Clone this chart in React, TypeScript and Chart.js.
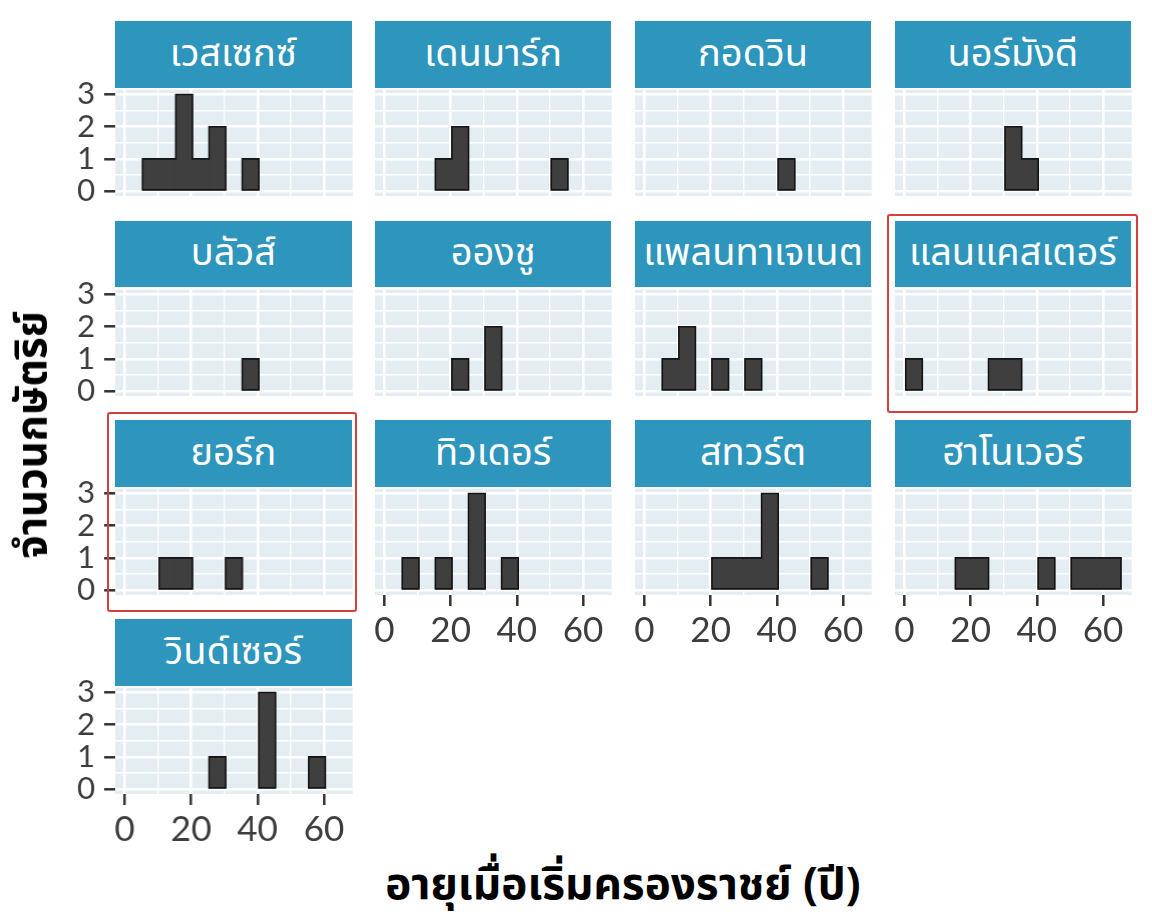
// Faceted histogram: age at accession by royal house
import { useEffect, useRef } from 'react';
import { Chart, registerables } from 'chart.js';

Chart.register(...registerables);

// bin centres in years (bin width 5)
const binCentres = [2.9, 7.9, 12.9, 17.9, 22.9, 27.9, 32.9, 37.9, 42.9, 47.9, 52.9, 57.9, 62.9];
const xTickLabels = [0, 20, 40, 60];
const yTickLabels = [0, 1, 2, 3];

const houseNames = [
  'เวสเซกซ์', 'เดนมาร์ก', 'กอดวิน', 'นอร์มังดี',
  'บลัวส์', 'อองชู', 'แพลนทาเจเนต', 'แลนแคสเตอร์',
  'ยอร์ก', 'ทิวเดอร์', 'สทวร์ต', 'ฮาโนเวอร์',
  'วินด์เซอร์',
];

// counts per bin for each house
const wessex = [0, 1, 1, 3, 1, 2, 0, 1, 0, 0, 0, 0, 0];
const denmark = [0, 0, 0, 1, 2, 0, 0, 0, 0, 0, 1, 0, 0];
const godwin = [0, 0, 0, 0, 0, 0, 0, 0, 1, 0, 0, 0, 0];
const normandy = [0, 0, 0, 0, 0, 0, 2, 1, 0, 0, 0, 0, 0];
const blois = [0, 0, 0, 0, 0, 0, 0, 1, 0, 0, 0, 0, 0];
const anjou = [0, 0, 0, 0, 1, 0, 2, 0, 0, 0, 0, 0, 0];
const plantagenet = [0, 1, 2, 0, 1, 0, 1, 0, 0, 0, 0, 0, 0];
const lancaster = [1, 0, 0, 0, 0, 1, 1, 0, 0, 0, 0, 0, 0];
const york = [0, 0, 1, 1, 0, 0, 1, 0, 0, 0, 0, 0, 0];
const tudor = [0, 1, 0, 1, 0, 3, 0, 1, 0, 0, 0, 0, 0];
const stuart = [0, 0, 0, 0, 1, 1, 1, 3, 0, 0, 1, 0, 0];
const hanover = [0, 0, 0, 1, 1, 0, 0, 0, 1, 0, 1, 1, 1];
const windsor = [0, 0, 0, 0, 0, 1, 0, 0, 3, 0, 0, 1, 0];

const houseCounts = [
  wessex, denmark, godwin, normandy,
  blois, anjou, plantagenet, lancaster,
  york, tudor, stuart, hanover,
  windsor,
];

const THAI_FONT = '"Noto Sans Thai", "Noto Sans Thai UI", Loma, Garuda, Sarabun, "Noto Sans", sans-serif';

const COL_LEFT = [115, 374.8, 634.7, 894.5];
const STRIP_TOP = [21.4, 220.7, 420, 619.3];
const PANEL_W = 236.7;
const STRIP_H = 66.6;
const PANEL_H = 108;
const PAD_L = 60;
const PAD_T = 26;
const PAD_R = 6;
const PAD_B = 64;

const panelBg = {
  id: 'panelBg',
  beforeDraw(chart: Chart) {
    const { ctx, chartArea } = chart;
    ctx.save();
    ctx.fillStyle = '#E4EDF2';
    ctx.fillRect(chartArea.left, chartArea.top, chartArea.right - chartArea.left, chartArea.bottom - chartArea.top);
    ctx.restore();
  },
};

// outline each run of neighbouring bars as one step shape (like geom_histogram)
const stepOutline = {
  id: 'stepOutline',
  afterDatasetsDraw(chart: any) {
    const bars = chart.getDatasetMeta(0).data;
    const vals = chart.data.datasets[0].data.map((d: any) => d.y);
    const ctx = chart.ctx;
    ctx.save();
    ctx.strokeStyle = '#141414';
    ctx.lineWidth = 1.6;
    let i = 0;
    while (i < bars.length) {
      if (!vals[i]) {
        i++;
        continue;
      }
      let j = i;
      while (j + 1 < bars.length && vals[j + 1]) j++;
      const base = bars[i].base;
      ctx.beginPath();
      ctx.moveTo(bars[i].x - bars[i].width / 2, base);
      for (let k = i; k <= j; k++) {
        const b = bars[k];
        ctx.lineTo(b.x - b.width / 2, b.y);
        ctx.lineTo(b.x + b.width / 2, b.y);
      }
      ctx.lineTo(bars[j].x + bars[j].width / 2, base);
      ctx.closePath();
      ctx.stroke();
      i = j + 1;
    }
    ctx.restore();
  },
};

function Panel({ name, counts, col, row }: { name: string; counts: number[]; col: number; row: number }) {
  const canvasRef = useRef<HTMLCanvasElement>(null);
  const showY = col === 0;
  const showX = row === 3 || (row === 2 && col > 0);
  const left = COL_LEFT[col];
  const stripTop = STRIP_TOP[row];
  const panelTop = stripTop + 67;

  useEffect(() => {
    if (!canvasRef.current) return;
    const chart = new Chart(canvasRef.current, {
      type: 'bar',
      data: {
        datasets: [
          {
            data: binCentres.map((x, i) => ({ x, y: counts[i] })),
            backgroundColor: (ctx: any) => (counts[ctx.dataIndex] ? '#3f3f3f' : 'rgba(0,0,0,0)'),
            borderWidth: 0,
            inflateAmount: 0.5,
            barPercentage: 1,
            categoryPercentage: 1,
          } as any,
        ],
      },
      options: {
        animation: false,
        responsive: true,
        maintainAspectRatio: false,
        layout: { padding: { top: PAD_T, right: PAD_R, left: 0, bottom: 0 } },
        plugins: { legend: { display: false }, tooltip: { enabled: false } },
        scales: {
          x: {
            type: 'linear',
            min: -2.85,
            max: 68.65,
            offset: false,
            border: { display: false },
            grid: {
              offset: false,
              color: '#ffffff',
              lineWidth: (ctx: any) => (xTickLabels.includes(ctx.tick?.value) ? 2.6 : 1.4),
              drawTicks: true,
              tickLength: 11,
              tickWidth: 2.5,
              tickColor: (ctx: any) =>
                showX && xTickLabels.includes(ctx.tick?.value) ? '#333333' : 'rgba(0,0,0,0)',
            },
            ticks: {
              stepSize: 10,
              includeBounds: false,
              autoSkip: false,
              maxRotation: 0,
              minRotation: 0,
              padding: 4,
              color: '#3d3d3d',
              font: { family: 'Lato', size: 35 },
              callback: (v: any) => (showX && xTickLabels.includes(v) ? String(v) : ''),
            },
            afterFit: (s: any) => {
              s.height = PAD_B;
            },
          },
          y: {
            type: 'linear',
            min: -0.15,
            max: 3.15,
            border: { display: false },
            grid: {
              color: '#ffffff',
              lineWidth: (ctx: any) => (yTickLabels.includes(ctx.tick?.value) ? 2.6 : 1.4),
              drawTicks: true,
              tickLength: 11,
              tickWidth: 2.5,
              tickColor: (ctx: any) =>
                showY && yTickLabels.includes(ctx.tick?.value) ? '#333333' : 'rgba(0,0,0,0)',
            },
            ticks: {
              stepSize: 0.5,
              includeBounds: false,
              autoSkip: false,
              padding: 9,
              color: '#3d3d3d',
              font: { family: 'Lato', size: 31 },
              callback: (v: any) => (showY && yTickLabels.includes(v) ? String(v) : ''),
            },
            afterFit: (s: any) => {
              s.width = PAD_L;
            },
          },
        },
      } as any,
      plugins: [panelBg, stepOutline],
    });
    return () => chart.destroy();
  }, [counts, showX, showY]);

  return (
    <>
      <div
        style={{
          position: 'absolute',
          left,
          top: stripTop,
          width: PANEL_W,
          height: STRIP_H,
          background: '#2E95BC',
          color: '#ffffff',
          display: 'flex',
          alignItems: 'center',
          justifyContent: 'center',
          fontFamily: THAI_FONT,
          fontSize: 38,
          whiteSpace: 'nowrap',
        }}
      >
        {name}
      </div>
      <div
        style={{
          position: 'absolute',
          left: left - PAD_L,
          top: panelTop - PAD_T,
          width: PAD_L + PANEL_W + PAD_R,
          height: PAD_T + PANEL_H + PAD_B,
        }}
      >
        <canvas ref={canvasRef}></canvas>
      </div>
    </>
  );
}

export default function App() {
  return (
    <div style={{ position: 'absolute', left: 0, top: 0, width: 1152, height: 923, background: '#ffffff', overflow: 'hidden' }}>
      {houseNames.map((name, i) => (
        <Panel key={name} name={name} counts={houseCounts[i]} col={i % 4} row={Math.floor(i / 4)} />
      ))}
      {/* highlight boxes */}
      <div style={{ position: 'absolute', left: 887, top: 213.5, width: 251, height: 199, border: '2px solid #D3413F', borderRadius: 3, boxSizing: 'border-box' }} />
      <div style={{ position: 'absolute', left: 106.7, top: 412.3, width: 250, height: 199.4, border: '2px solid #D3413F', borderRadius: 3, boxSizing: 'border-box' }} />
      <div
        style={{
          position: 'absolute',
          left: 33,
          top: 435,
          transform: 'translate(-50%, -50%) rotate(-90deg)',
          fontFamily: THAI_FONT,
          fontWeight: 'bold',
          fontSize: 42,
          whiteSpace: 'nowrap',
          color: '#000000',
        }}
      >
        จำนวนกษัตริย์
      </div>
      <div
        style={{
          position: 'absolute',
          left: 623,
          top: 885,
          transform: 'translate(-50%, -50%)',
          fontFamily: THAI_FONT,
          fontWeight: 'bold',
          fontSize: 44,
          whiteSpace: 'nowrap',
          color: '#000000',
        }}
      >
        อายุเมื่อเริ่มครองราชย์ (ปี)
      </div>
    </div>
  );
}
